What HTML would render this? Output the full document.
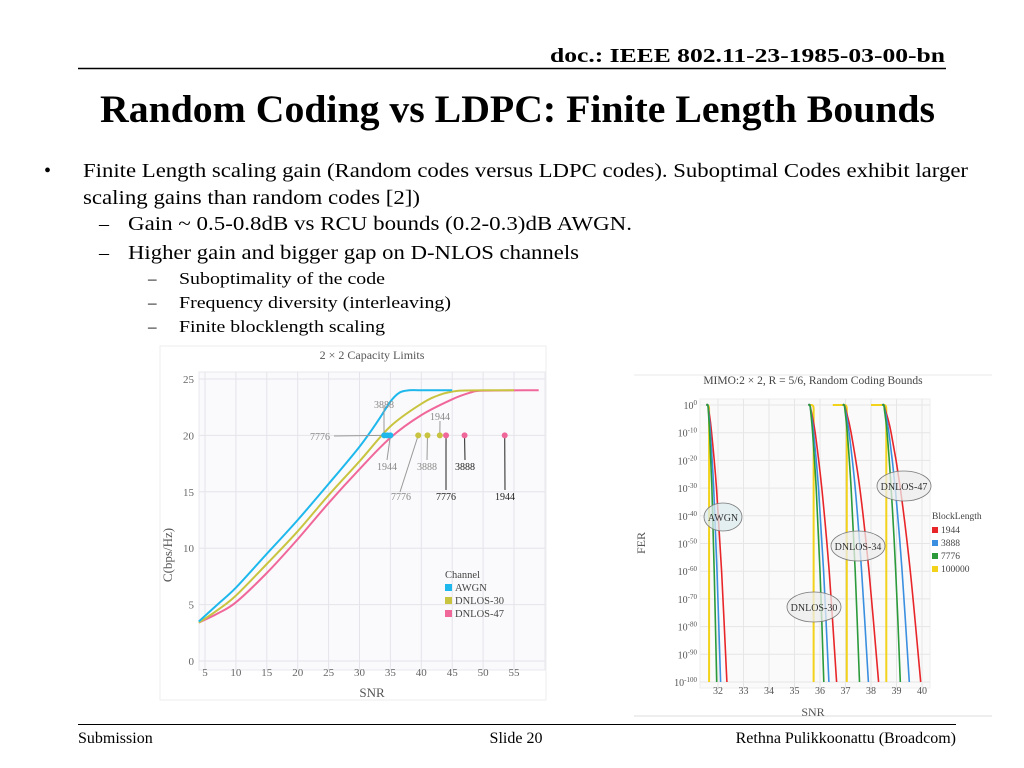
<!DOCTYPE html>
<html><head><meta charset="utf-8"><style>
html,body{margin:0;padding:0;background:#fff;width:1024px;height:768px;overflow:hidden}
svg{display:block}
text{font-family:"Liberation Serif",serif}
</style></head><body>
<svg id="s" width="1024" height="768" viewBox="0 0 1024 768" xmlns="http://www.w3.org/2000/svg">
<g>
<text x="550" y="62" font-size="20" font-weight="bold" textLength="395" lengthAdjust="spacingAndGlyphs">doc.: IEEE 802.11-23-1985-03-00-bn</text>
<line x1="78" y1="68.5" x2="946" y2="68.5" stroke="#000" stroke-width="1.5"/>
<text x="100" y="122" font-size="39" font-weight="bold" textLength="835" lengthAdjust="spacingAndGlyphs">Random Coding vs LDPC: Finite Length Bounds</text>
</g>
<g font-size="20">
<text x="44" y="177">•</text>
<text x="83" y="177" textLength="885" lengthAdjust="spacingAndGlyphs">Finite Length scaling gain (Random codes versus LDPC codes). Suboptimal Codes exhibit larger</text>
<text x="83" y="204" textLength="337" lengthAdjust="spacingAndGlyphs">scaling gains than random codes [2])</text>
<text x="99" y="230">–</text>
<text x="128" y="230" textLength="504" lengthAdjust="spacingAndGlyphs">Gain ~ 0.5-0.8dB vs RCU bounds (0.2-0.3)dB AWGN.</text>
<text x="99" y="259">–</text>
<text x="128" y="259" textLength="451" lengthAdjust="spacingAndGlyphs">Higher gain and bigger gap on D-NLOS channels</text>
<g font-size="17">
<text x="148" y="284">–</text>
<text x="179" y="284" textLength="206" lengthAdjust="spacingAndGlyphs">Suboptimality of the code</text>
<text x="148" y="308">–</text>
<text x="179" y="308" textLength="272" lengthAdjust="spacingAndGlyphs">Frequency diversity (interleaving)</text>
<text x="148" y="332">–</text>
<text x="179" y="332" textLength="206" lengthAdjust="spacingAndGlyphs">Finite blocklength scaling</text>
</g></g>
<g>
<line x1="78" y1="724.5" x2="956" y2="724.5" stroke="#000" stroke-width="1"/>
<text x="78" y="743" font-size="16">Submission</text>
<text x="516" y="743" font-size="16" text-anchor="middle">Slide 20</text>
<text x="956" y="743" font-size="16" text-anchor="end">Rethna Pulikkoonattu (Broadcom)</text>
</g>
<g id="c1"></g>
<g id="c2"></g>
</svg>
<script>
// ---- Chart 1 data ----
const capTicksX=[5,10,15,20,25,30,35,40,45,50,55];
const capTicksY=[0,5,10,15,20,25];
const awgnSnr=[4,7,10,15,20,25,30,33,35,36.5,38,40,45];
const awgnCap=[3.5,5,6.5,9.5,12.5,15.7,19,21.3,23,23.8,24,24,24];
const dn30Snr=[4,7,10,15,20,25,30,35,40,43,46,50,55];
const dn30Cap=[3.4,4.5,5.8,8.6,11.5,14.7,17.7,20.8,22.8,23.6,23.95,24,24];
const dn47Snr=[4,7,10,15,20,25,30,35,40,45,48,50,59];
const dn47Cap=[3.4,4.2,5.2,7.8,10.8,14,17,19.8,21.8,23.2,23.8,23.97,24];
const awgnMarks=[34,34.5,35];
const dn30Marks=[39.5,41,43];
const dn47Marks=[44,47,53.5];
// ---- Chart 2 data ----
const ferTicksX=[32,33,34,35,36,37,38,39,40];
const ferTicksExp=[0,-10,-20,-30,-40,-50,-60,-70,-80,-90,-100];
const ferExp=[0,-2,-10,-30,-60,-100];
const awgn1944=[31.6,31.64,31.75,31.94,32.14,32.35];
const awgn3888=[31.6,31.63,31.7,31.83,31.96,32.1];
const awgn7776=[31.6,31.62,31.67,31.76,31.85,31.95];
const d30_1944=[35.6,35.65,35.81,36.07,36.36,36.65];
const d30_3888=[35.6,35.64,35.75,35.94,36.14,36.35];
const d30_7776=[35.6,35.63,35.71,35.85,36.0,36.15];
const d34_1944=[36.95,37.02,37.22,37.56,37.92,38.3];
const d34_3888=[36.95,37.0,37.14,37.38,37.63,37.9];
const d34_7776=[36.95,36.98,37.07,37.22,37.38,37.55];
const d47_1944=[38.5,38.57,38.79,39.15,39.54,39.95];
const d47_3888=[38.5,38.55,38.7,38.95,39.22,39.5];
const d47_7776=[38.5,38.53,38.63,38.79,38.97,39.15];
const yellowStart=[31.55,35.6,36.5,38.0];
const yellowCliff=[31.65,35.75,37.05,38.6];

const NS='http://www.w3.org/2000/svg';
function mk(p,tag,a,txt){const e=document.createElementNS(NS,tag);for(const k in a)e.setAttribute(k,a[k]);if(txt!==undefined)e.textContent=txt;p.appendChild(e);return e;}
function smooth(pts){let d='M'+pts[0][0]+','+pts[0][1];for(let i=1;i<pts.length;i++){const p0=pts[i-2]||pts[i-1],p1=pts[i-1],p2=pts[i],p3=pts[i+1]||p2;const c1=[p1[0]+(p2[0]-p0[0])/6,p1[1]+(p2[1]-p0[1])/6],c2=[p2[0]-(p3[0]-p1[0])/6,p2[1]-(p3[1]-p1[1])/6];d+=' C'+c1[0].toFixed(1)+','+c1[1].toFixed(1)+' '+c2[0].toFixed(1)+','+c2[1].toFixed(1)+' '+p2[0].toFixed(1)+','+p2[1].toFixed(1);}return d;}

// Chart 1
(function(){
const g=document.getElementById('c1');
const X=v=>205+(v-5)*6.18, Y=v=>661-v*11.28;
let e=mk(g,'rect',{x:160,y:346,width:386,height:354,fill:'#fff',stroke:'#eee'});

e=mk(g,'rect',{x:199,y:372,width:346,height:298,fill:'#fafafc',stroke:'#e8e8ee'});

capTicksX.forEach(t=>{e=mk(g,'line',{x1:X(t),x2:X(t),y1:372,y2:670,stroke:'#e4e4ea'});
e=mk(g,'text',{x:X(t),y:676,'font-size':11,fill:'#666','text-anchor':'middle'},t);});
capTicksY.forEach(t=>{e=mk(g,'line',{x1:199,x2:545,y1:Y(t),y2:Y(t),stroke:'#e4e4ea'});
e=mk(g,'text',{x:194,y:Y(t)+4,'font-size':11,fill:'#666','text-anchor':'end'},t);});
e=mk(g,'text',{x:372,y:359,'font-size':12,fill:'#555','text-anchor':'middle'},'2 × 2 Capacity Limits');
e=mk(g,'text',{x:372,y:697,'font-size':13,fill:'#555','text-anchor':'middle'},'SNR');
e=mk(g,'text',{x:0,y:0,'font-size':13,fill:'#555','text-anchor':'middle',transform:'translate(172,555) rotate(-90)'},'C(bps/Hz)');
const series=[[dn47Snr,dn47Cap,'#f0679a','dnlos-47-curve'],[dn30Snr,dn30Cap,'#c9c440','dnlos-30-curve'],[awgnSnr,awgnCap,'#1fb8ec','awgn-curve']];
series.forEach(s=>{e=mk(g,'path',{d:smooth(s[0].map((v,i)=>[X(v),Y(s[1][i])])),fill:'none',stroke:s[2],'stroke-width':2});});
const ann=(x1,y1,x2,y2,c)=>{e=mk(g,'line',{x1,y1,x2,y2,stroke:c,'stroke-width':1});};
const lab=(x,y,t,c)=>{e=mk(g,'text',{x,y,'font-size':10,fill:c,'text-anchor':'middle'},t);};
ann(334,436,X(awgnMarks[0]),Y(20),'#999');lab(320,440,'7776','#888');
ann(384,407,384,Y(20),'#999');lab(384,408,'3888','#888');
ann(387,460,X(awgnMarks[2]),Y(20),'#999');lab(387,470,'1944','#888');
ann(400,492,X(dn30Marks[0]),Y(20),'#999');lab(401,500,'7776','#888');
ann(427,460,X(dn30Marks[1]),Y(20),'#999');lab(427,470,'3888','#888');
ann(440,421,X(dn30Marks[2]),Y(20),'#999');lab(440,420,'1944','#888');
ann(446,490,X(dn47Marks[0]),Y(20),'#222');lab(446,500,'7776','#222');
ann(465,460,X(dn47Marks[1]),Y(20),'#222');lab(465,470,'3888','#222');
ann(505,490,X(dn47Marks[2]),Y(20),'#222');lab(505,500,'1944','#222');
[[awgnMarks,'#1fb8ec'],[dn30Marks,'#c9c440'],[dn47Marks,'#f0679a']].forEach(m=>m[0].forEach(v=>{e=mk(g,'circle',{cx:X(v),cy:Y(20),r:3,fill:m[1]});}));
e=mk(g,'text',{x:445,y:578,'font-size':10.5,fill:'#444'},'Channel');
[['AWGN','#1fb8ec'],['DNLOS-30','#c9c440'],['DNLOS-47','#f0679a']].forEach((l,i)=>{
e=mk(g,'rect',{x:445,y:584+i*13,width:7,height:7,fill:l[1]});
e=mk(g,'text',{x:455,y:591+i*13,'font-size':10.5,fill:'#444'},l[0]);});
})();

// Chart 2
(function(){
const g=document.getElementById('c2');
const X=v=>718+(v-32)*25.5, Y=ex=>405-ex*2.77;
let e=mk(g,'rect',{x:634,y:374,width:358,height:342,fill:'#fff'});

e=mk(g,'line',{x1:634,x2:992,y1:375,y2:375,stroke:'#e8e8e8'});
e=mk(g,'line',{x1:634,x2:992,y1:716,y2:716,stroke:'#ddd'});
e=mk(g,'rect',{x:700,y:399,width:230,height:289,fill:'#fafafa',stroke:'#eee'});

ferTicksX.forEach(t=>{e=mk(g,'line',{x1:X(t),x2:X(t),y1:399,y2:688,stroke:'#e6e6e6'});
e=mk(g,'text',{x:X(t),y:694,'font-size':10,fill:'#555','text-anchor':'middle'},t);});
ferTicksExp.forEach(t=>{e=mk(g,'line',{x1:700,x2:930,y1:Y(t),y2:Y(t),stroke:'#e6e6e6'});
const tx=mk(g,'text',{x:697,y:Y(t)+4,'font-size':10,fill:'#555','text-anchor':'end'});
mk(tx,'tspan',{},'10');mk(tx,'tspan',{dy:-4,'font-size':7},String(t));});
e=mk(g,'text',{x:813,y:384,'font-size':11.5,fill:'#444','text-anchor':'middle'},'MIMO:2 × 2, R = 5/6, Random Coding Bounds');
e=mk(g,'text',{x:813,y:716,'font-size':12,fill:'#555','text-anchor':'middle'},'SNR');
e=mk(g,'text',{x:0,y:0,'font-size':12,fill:'#555','text-anchor':'middle',transform:'translate(645,543) rotate(-90)'},'FER');
const groups=[[awgn1944,awgn3888,awgn7776],[d30_1944,d30_3888,d30_7776],[d34_1944,d34_3888,d34_7776],[d47_1944,d47_3888,d47_7776]];
const cols=['#e8262a','#3a8fe0','#2a9a3a'];const names=['1944','3888','7776'];
groups.forEach((gr,gi)=>{
 e=mk(g,'path',{d:'M'+X(yellowStart[gi])+','+Y(0)+' L'+(X(yellowCliff[gi])-2)+','+Y(0)+' Q'+X(yellowCliff[gi])+','+Y(0)+' '+X(yellowCliff[gi])+','+(Y(0)+4)+' L'+X(yellowCliff[gi])+','+Y(-100),fill:'none',stroke:'#f2d21a','stroke-width':2});
 
 gr.forEach((arr,ci)=>{const pts=[[X(arr[0]-0.06),Y(0)]].concat(arr.map((v,i)=>[X(v),Y(ferExp[i])]));
  e=mk(g,'path',{d:smooth(pts),fill:'none',stroke:cols[ci],'stroke-width':1.6});
  });
});
const ell=(cx,cy,rx,ry,t,f)=>{e=mk(g,'ellipse',{cx,cy,rx,ry,fill:f,'fill-opacity':0.75,stroke:'#777','stroke-width':0.8});
 e=mk(g,'text',{x:cx,y:cy+4,'font-size':10,fill:'#333','text-anchor':'middle'},t);};
ell(723,517,19,14,'AWGN','#dcebee');
ell(858,546,27,15,'DNLOS-34','#ececec');
ell(814,607,27,15,'DNLOS-30','#ececec');
ell(904,486,27,15,'DNLOS-47','#ececec');
e=mk(g,'text',{x:932,y:519,'font-size':9.5,fill:'#444'},'BlockLength');
[['1944','#e8262a'],['3888','#3a8fe0'],['7776','#2a9a3a'],['100000','#f2d21a']].forEach((l,i)=>{
e=mk(g,'rect',{x:932,y:527+i*13,width:6,height:6,fill:l[1]});
e=mk(g,'text',{x:941,y:533+i*13,'font-size':9.5,fill:'#444'},l[0]);});
})();
</script>
</body></html>
